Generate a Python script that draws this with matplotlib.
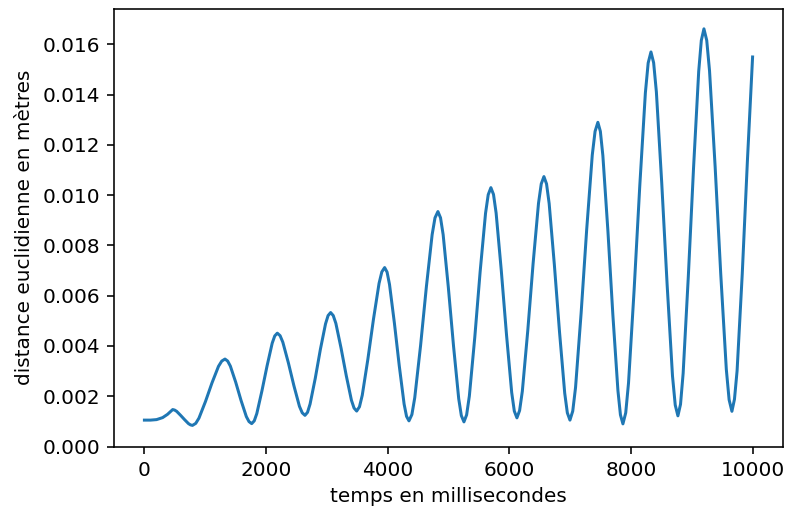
import matplotlib
matplotlib.use("Agg")
import matplotlib.pyplot as plt

# temps (ms) and distance (m)
temps_ms = [
    0, 100, 200, 300, 380, 465,
    497, 530, 595, 660, 725, 758, 790,
    844, 897, 1004, 1111, 1218, 1272, 1325,
    1369, 1413, 1501, 1588, 1676, 1720, 1764,
    1806, 1848, 1932, 2017, 2101, 2143, 2185,
    2231, 2276, 2367, 2458, 2549, 2595, 2640,
    2682, 2724, 2809, 2893, 2978, 3020, 3062,
    3105, 3148, 3233, 3319, 3404, 3447, 3490,
    3536, 3582, 3674, 3766, 3858, 3904, 3950,
    3990, 4030, 4110, 4190, 4270, 4310, 4350,
    4398, 4445, 4541, 4636, 4731, 4778, 4826,
    4869, 4912, 4997, 5083, 5168, 5211, 5254,
    5298, 5343, 5432, 5520, 5609, 5653, 5697,
    5740, 5783, 5868, 5954, 6039, 6082, 6125,
    6169, 6214, 6303, 6391, 6480, 6525, 6569,
    6612, 6655, 6740, 6826, 6911, 6954, 6997,
    7043, 7089, 7181, 7272, 7364, 7410, 7456,
    7497, 7538, 7621, 7703, 7786, 7827, 7868,
    7914, 7960, 8052, 8145, 8237, 8283, 8329,
    8373, 8418, 8506, 8595, 8683, 8728, 8772,
    8815, 8858, 8943, 9029, 9114, 9157, 9200,
    9246, 9292, 9384, 9476, 9568, 9614, 9660,
    9702, 9745, 9830, 9915, 10000,
]

distance_m = [
    0.00105, 0.00105, 0.00107, 0.00115, 0.00128, 0.00147,
    0.00145, 0.00140, 0.00124, 0.00107, 0.00091, 0.00086, 0.00084,
    0.00092, 0.00113, 0.00179, 0.00253, 0.00319, 0.00340, 0.00348,
    0.00340, 0.00320, 0.00256, 0.00184, 0.00119, 0.00099, 0.00091,
    0.00102, 0.00131, 0.00221, 0.00321, 0.00411, 0.00440, 0.00451,
    0.00441, 0.00415, 0.00333, 0.00242, 0.00160, 0.00134, 0.00124,
    0.00136, 0.00169, 0.00271, 0.00386, 0.00488, 0.00521, 0.00533,
    0.00521, 0.00490, 0.00392, 0.00282, 0.00184, 0.00153, 0.00141,
    0.00158, 0.00204, 0.00347, 0.00506, 0.00649, 0.00695, 0.00712,
    0.00694, 0.00645, 0.00492, 0.00322, 0.00169, 0.00120, 0.00102,
    0.00127, 0.00194, 0.00402, 0.00635, 0.00843, 0.00910, 0.00935,
    0.00910, 0.00843, 0.00634, 0.00399, 0.00190, 0.00123, 0.00098,
    0.00126, 0.00201, 0.00434, 0.00695, 0.00928, 0.01002, 0.01030,
    0.01003, 0.00929, 0.00700, 0.00444, 0.00215, 0.00141, 0.00114,
    0.00143, 0.00220, 0.00460, 0.00728, 0.00968, 0.01045, 0.01074,
    0.01045, 0.00967, 0.00725, 0.00454, 0.00212, 0.00134, 0.00105,
    0.00141, 0.00235, 0.00532, 0.00863, 0.01160, 0.01254, 0.01290,
    0.01254, 0.01158, 0.00858, 0.00522, 0.00222, 0.00126, 0.00090,
    0.00134, 0.00253, 0.00623, 0.01037, 0.01407, 0.01526, 0.01570,
    0.01527, 0.01411, 0.01049, 0.00643, 0.00281, 0.00165, 0.00122,
    0.00168, 0.00291, 0.00676, 0.01108, 0.01493, 0.01616, 0.01662,
    0.01616, 0.01495, 0.01114, 0.00688, 0.00307, 0.00186, 0.00140,
    0.00188, 0.00301, 0.00687, 0.01138, 0.01550,
]

x_label = "temps en millisecondes"
y_label = "distance euclidienne en mètres"

DPI = 144
fig = plt.figure(figsize=(787 / DPI, 511 / DPI), dpi=DPI)
ax = fig.add_axes([114 / 787, 1 - 446.5 / 511, (783 - 114) / 787, (446.5 - 9) / 511])
ax.plot(temps_ms, distance_m, color="#1f77b4", linewidth=1.5)
ax.set_ylim(bottom=0)
ax.set_xlabel(x_label)
ax.set_ylabel(y_label)
fig.savefig("out.png", dpi=DPI)
